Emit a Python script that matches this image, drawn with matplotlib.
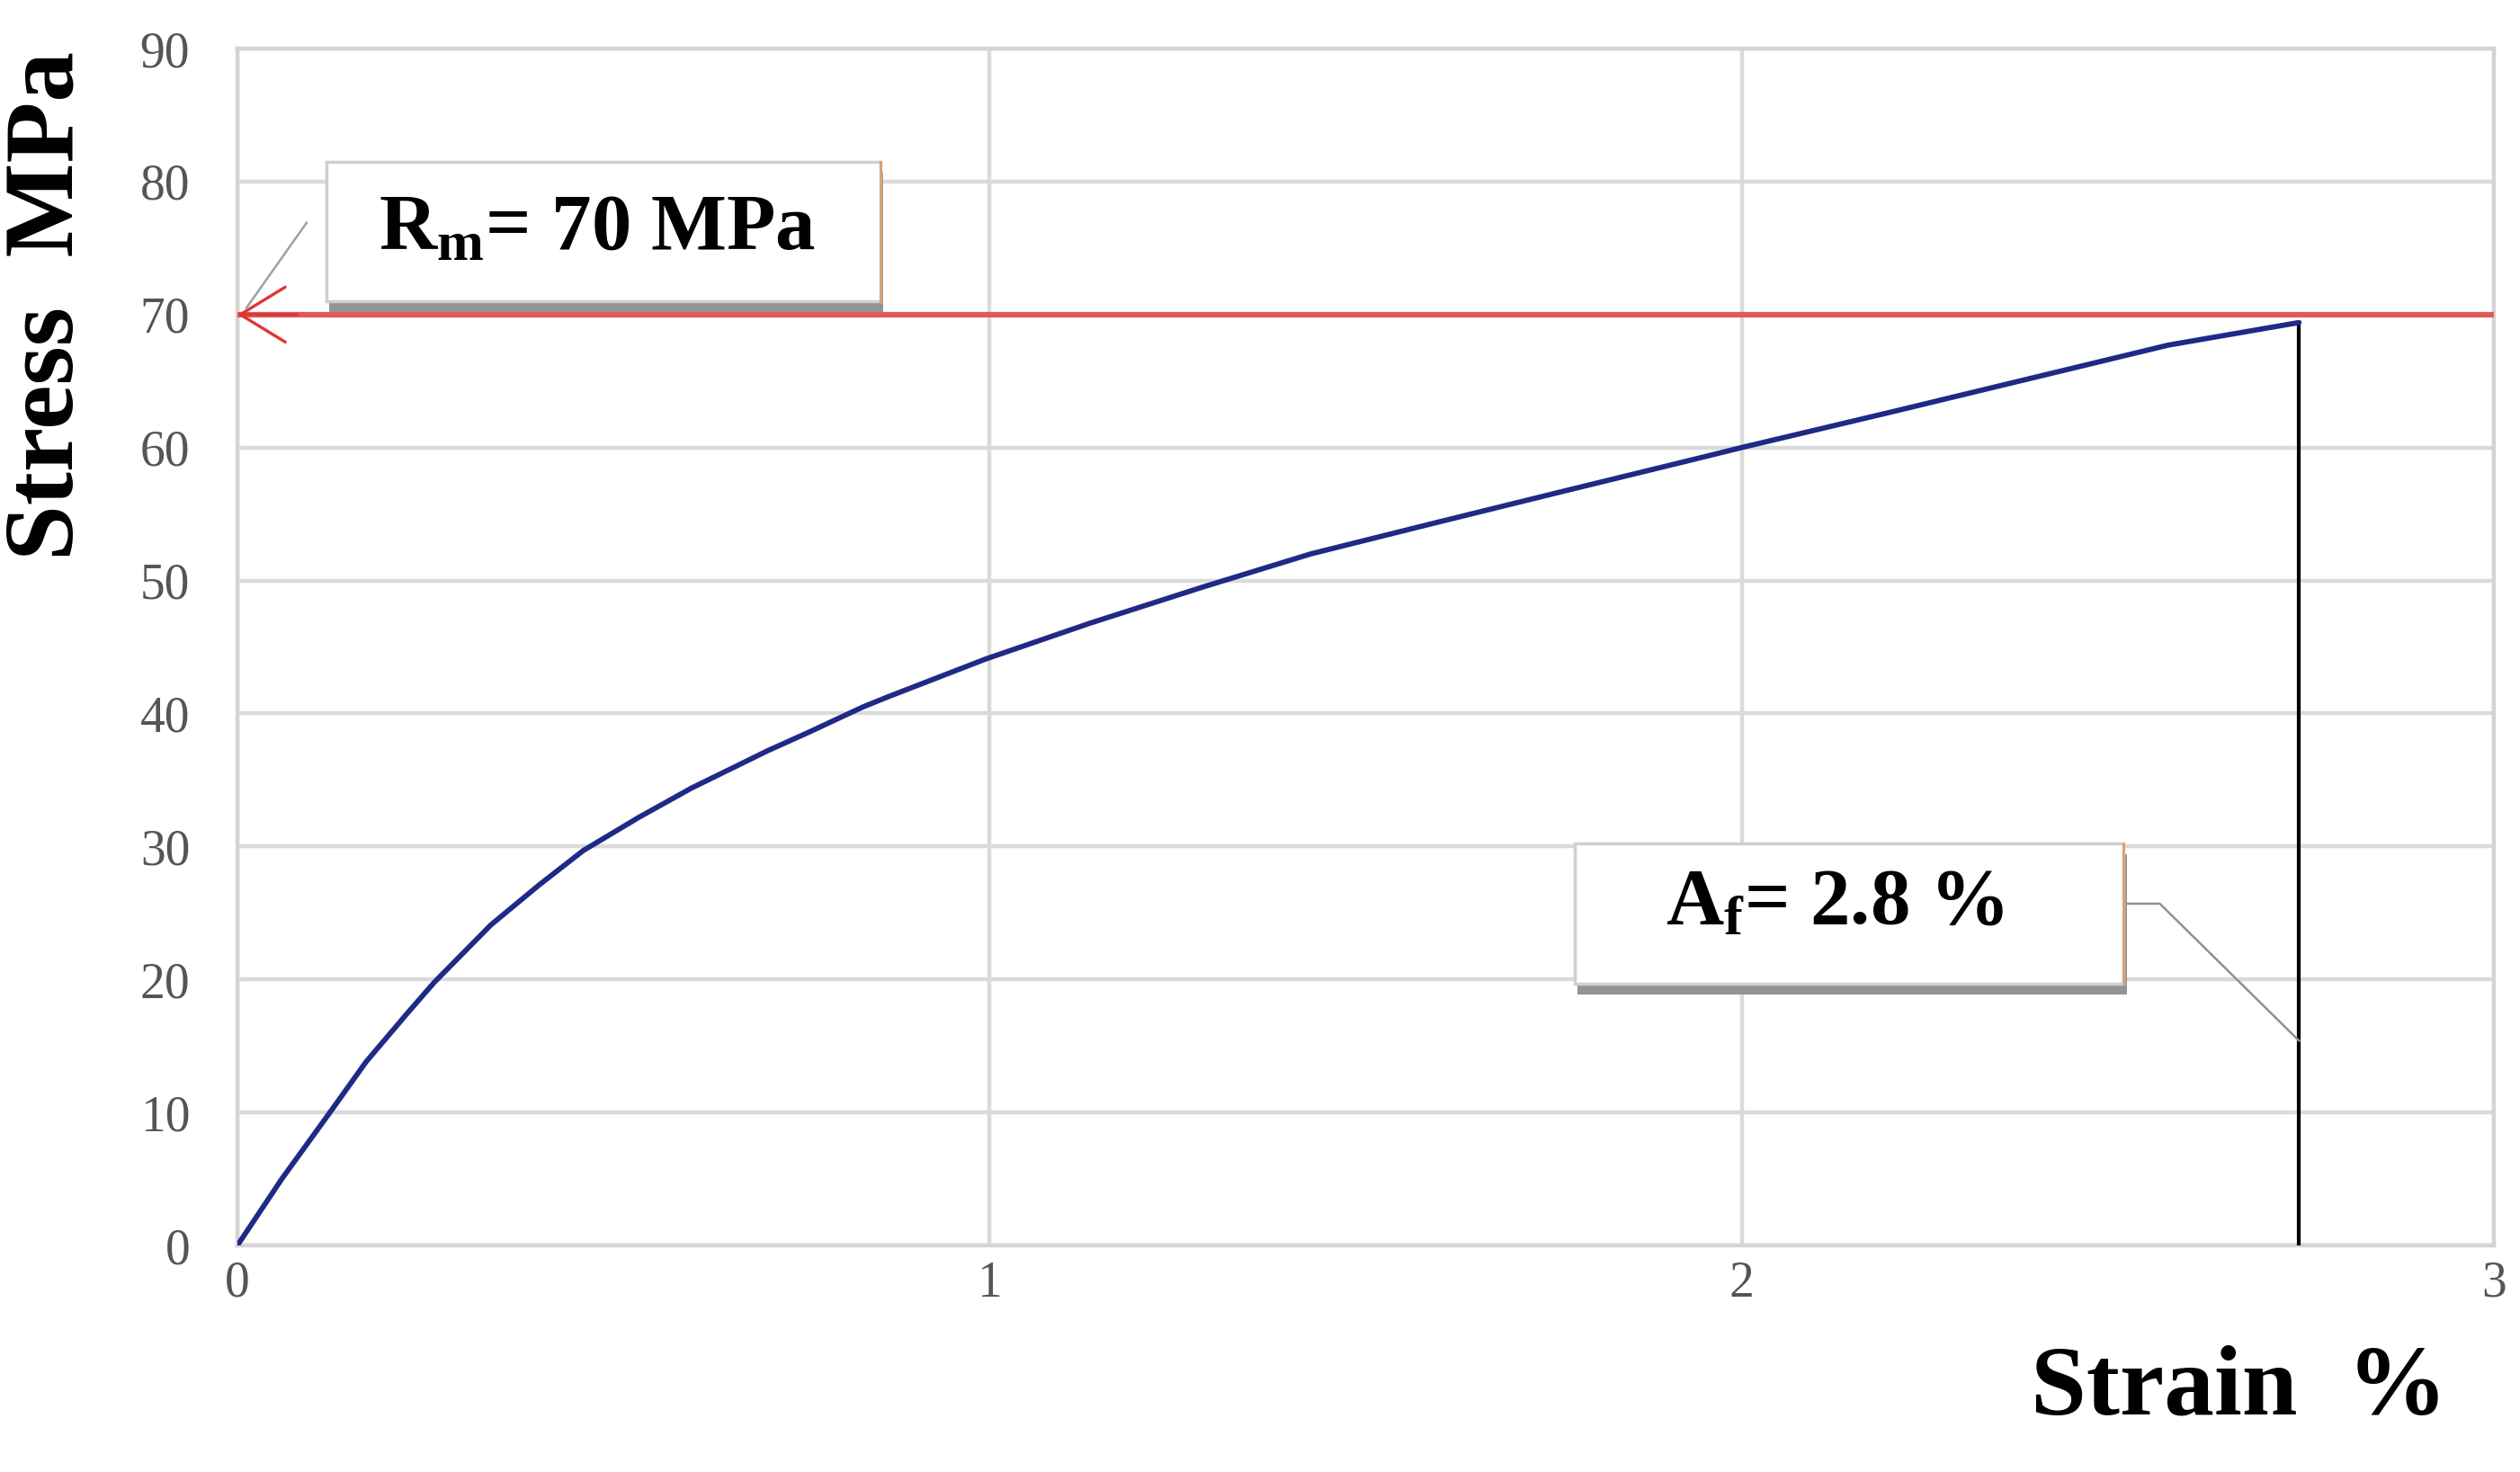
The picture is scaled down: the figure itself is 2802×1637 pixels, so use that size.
import matplotlib
matplotlib.use("Agg")
import matplotlib.pyplot as plt
from matplotlib.patches import Rectangle

plt.rcParams['font.family'] = ['Liberation Serif', 'DejaVu Serif']
plt.rcParams['mathtext.fontset'] = 'custom'
plt.rcParams['mathtext.rm'] = 'Liberation Serif:bold'
plt.rcParams['mathtext.bf'] = 'Liberation Serif:bold'
plt.rcParams['mathtext.it'] = 'Liberation Serif:bold'

# courbe contrainte-deformation
strain = [0, 0.059, 0.123, 0.171, 0.225, 0.262, 0.337, 0.401, 0.460, 0.534,
          0.604, 0.705, 0.760, 0.832, 0.867, 0.995, 1.134, 1.283, 1.427, 1.597,
          1.762, 1.95, 2.0, 2.201, 2.384, 2.567, 2.741]
stress = [0, 5.0, 10.0, 13.8, 17.4, 19.8, 24.1, 27.1, 29.7, 32.2,
          34.4, 37.2, 38.6, 40.5, 41.3, 44.1, 46.8, 49.5, 52.0, 54.4,
          56.7, 59.3, 60.0, 62.7, 65.2, 67.7, 69.4]

rm_value = 70      # MPa
af_value = 2.741   # position de la rupture sur l'axe
af_label = 2.8     # valeur affichee

x_ticks = [0, 1, 2, 3]
y_ticks = [0, 10, 20, 30, 40, 50, 60, 70, 80, 90]

fig = plt.figure(figsize=(28.02, 16.37), dpi=100)
ax = fig.add_axes([0.0942, 0.1539, 0.8954, 0.8131])

ax.set_xlim(0, 3)
ax.set_ylim(0, 90)
ax.set_xticks(x_ticks)
ax.set_yticks(y_ticks)
ax.grid(True, color='#dadada', lw=3.2, zorder=0)
ax.set_axisbelow(True)
for s in ax.spines.values():
    s.set_color('#d4d4d4')
    s.set_linewidth(3.2)
ax.tick_params(length=0, labelsize=40, labelcolor='#555555')
ax.tick_params(axis='y', pad=38)
ax.tick_params(axis='x', pad=12)

# ligne Rm + fleche
ax.axhline(rm_value, color='#e05a5a', lw=4.5, zorder=3)
ax.annotate('', xy=(0, rm_value), xytext=(0.08, rm_value),
            arrowprops=dict(arrowstyle='->,head_length=0.36,head_width=0.22',
                            color='#e03535', lw=2.4, mutation_scale=100,
                            shrinkA=0, shrinkB=0), zorder=4)

# courbe
ax.plot(strain, stress, color='#1f2a86', lw=4.2, zorder=5,
        solid_capstyle='round', solid_joinstyle='round')

# ligne verticale de rupture
ax.plot([af_value, af_value], [0, stress[-1]], color='black', lw=3.0, zorder=4)

def callout(x0, x1, y0, y1, label, tx, ty):
    # ombre puis boite blanche
    ax.add_patch(Rectangle((x0 + 0.004, y0 - 0.8), x1 - x0, y1 - y0,
                           facecolor='#939393', edgecolor='none', zorder=6))
    ax.add_patch(Rectangle((x0, y0), x1 - x0, y1 - y0,
                           facecolor='white', edgecolor='#cfcfcf', lw=2.5, zorder=7))
    ax.plot([x1, x1], [y0, y1], color='#d9a070', lw=2, zorder=8)
    ax.text(tx, ty, label, fontsize=64, fontweight='bold', ha='center',
            va='baseline', zorder=9, color='black')

callout(0.118, 0.855, 71.0, 81.5, r'$\mathrm{R_m}$= %d MPa' % rm_value, 0.478, 74.9)
ax.plot([0.092, 0.012], [76.9, 70.5], color='#a0a0a0', lw=1.8, zorder=5)

callout(1.778, 2.508, 19.7, 30.2, r'$\mathrm{A_f}$= %.1f %%' % af_label, 2.124, 24.2)
ax.plot([2.512, 2.556, af_value], [25.7, 25.7, 15.4], color='#909090', lw=1.8, zorder=5)

fig.text(54 / 2802, 1 - 340 / 1637, 'Stress  MPa', rotation=90, fontsize=80,
         fontweight='bold', ha='center', va='center')
fig.text(2490 / 2802, 1 - 1546 / 1637, 'Strain  %', fontsize=80,
         fontweight='bold', ha='center', va='center')

fig.savefig('out.png', dpi=100, facecolor='white')
